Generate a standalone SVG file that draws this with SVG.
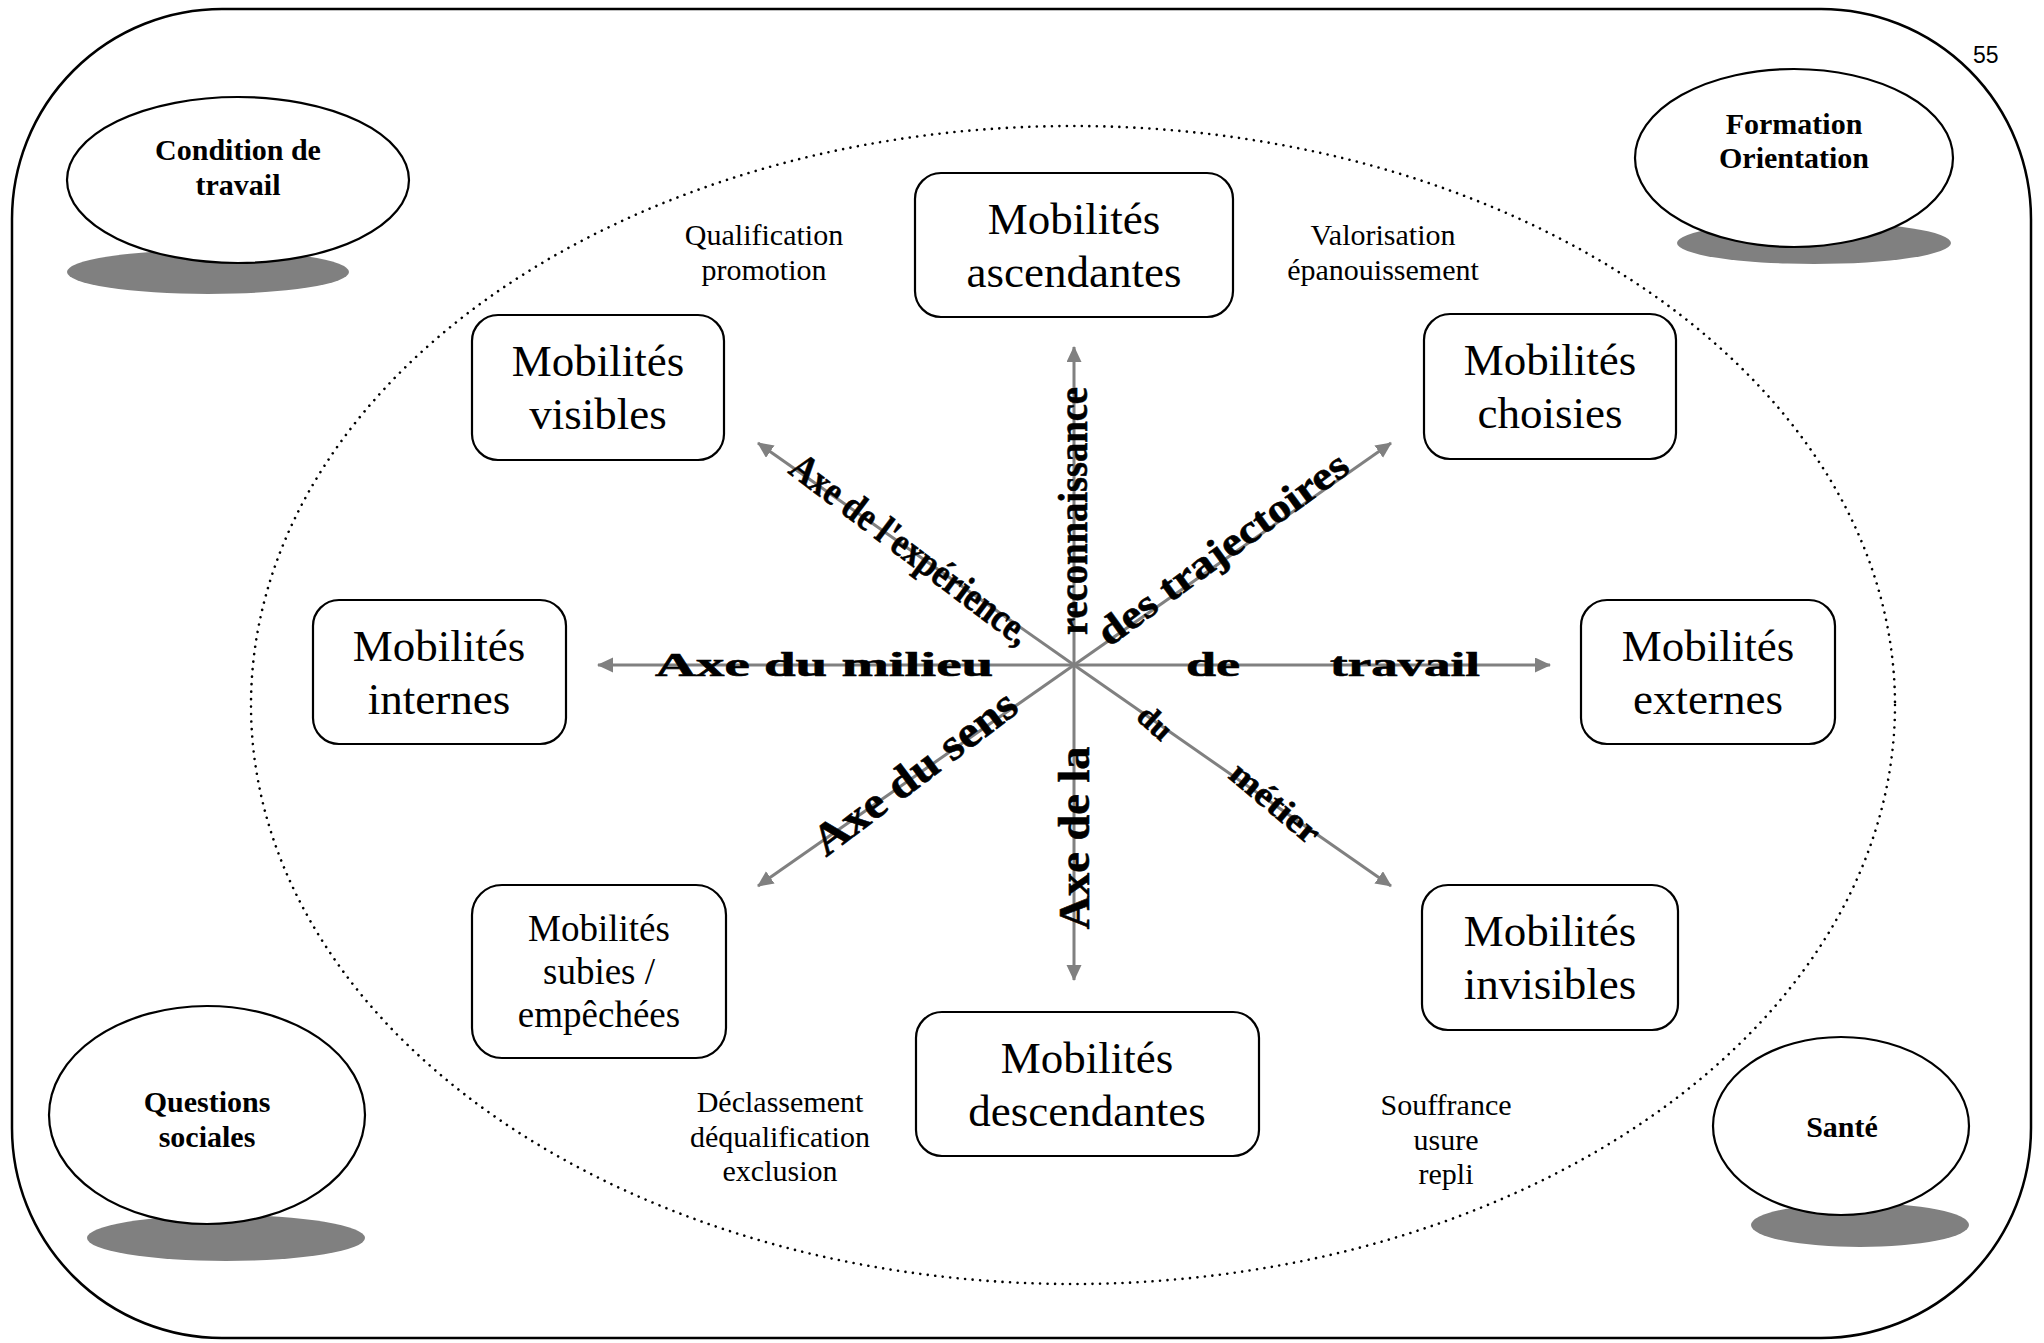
<svg xmlns="http://www.w3.org/2000/svg" width="2044" height="1343" viewBox="0 0 2044 1343">
  <defs>
    <marker id="arrowHead" markerUnits="userSpaceOnUse" markerWidth="18" markerHeight="16" refX="15" refY="7.5" orient="auto">
      <path d="M0,0 L16,7.5 L0,15 z" fill="#808080"/>
    </marker>
    <style>
      .frame { fill: #ffffff; stroke: #000000; stroke-width: 2.5; }
      .halo { fill: none; stroke: #000000; stroke-width: 2.6; stroke-dasharray: 0.01 7.5; stroke-linecap: round; }
      .box { fill: #ffffff; stroke: #000000; stroke-width: 2.2; }
      .pill { fill: #ffffff; stroke: #000000; stroke-width: 2.2; }
      .shadow { fill: #808080; stroke: none; }
      .axis { stroke: #808080; stroke-width: 3; fill: none; marker-end: url(#arrowHead); }
      .boxText { font-family: "Liberation Serif", "Times New Roman", serif; font-size: 45px; fill: #000000; text-anchor: middle; }
      .boxTextSm { font-family: "Liberation Serif", "Times New Roman", serif; font-size: 37px; fill: #000000; text-anchor: middle; }
      .note { font-family: "Liberation Serif", "Times New Roman", serif; font-size: 30px; fill: #000000; text-anchor: middle; }
      .pillText { font-family: "Liberation Serif", "Times New Roman", serif; font-size: 30px; font-weight: bold; fill: #000000; text-anchor: middle; }
      .axisText { font-family: "Liberation Serif", "Times New Roman", serif; font-weight: bold; fill: #000000; stroke: #000000; stroke-width: 0.6; }
      .pageNo { font-family: "Liberation Sans", Arial, sans-serif; font-size: 23px; fill: #000000; }
    </style>
  </defs>

  <!-- outer frame -->
  <rect class="frame" x="12" y="9" width="2019" height="1329" rx="210" ry="210"/>
  <text class="pageNo" x="1973" y="63">55</text>

  <!-- dotted field around the mobility map -->
  <ellipse class="halo" cx="1073" cy="705" rx="822" ry="579"/>

  <!-- context themes in the corners -->
  <g id="condition-travail">
    <ellipse class="shadow" cx="208" cy="272" rx="141" ry="22"/>
    <ellipse class="pill" cx="238" cy="180" rx="171" ry="83"/>
    <text class="pillText" x="238" y="160">Condition de</text>
    <text class="pillText" x="238" y="195">travail</text>
  </g>
  <g id="formation-orientation">
    <ellipse class="shadow" cx="1814" cy="243" rx="137" ry="21"/>
    <ellipse class="pill" cx="1794" cy="158" rx="159" ry="89"/>
    <text class="pillText" x="1794" y="134">Formation</text>
    <text class="pillText" x="1794" y="168">Orientation</text>
  </g>
  <g id="questions-sociales">
    <ellipse class="shadow" cx="226" cy="1238" rx="139" ry="23"/>
    <ellipse class="pill" cx="207" cy="1115" rx="158" ry="109"/>
    <text class="pillText" x="207" y="1112">Questions</text>
    <text class="pillText" x="207" y="1147">sociales</text>
  </g>
  <g id="sante">
    <ellipse class="shadow" cx="1860" cy="1225" rx="109" ry="22"/>
    <ellipse class="pill" cx="1841" cy="1126" rx="128" ry="89"/>
    <text class="pillText" x="1842" y="1137">Santé</text>
  </g>

  <!-- axes radiating from the centre -->
  <g id="axes">
    <line class="axis" x1="1074" y1="665" x2="1074" y2="347"/>
    <line class="axis" x1="1074" y1="665" x2="1074" y2="980"/>
    <line class="axis" x1="1074" y1="665" x2="598" y2="665"/>
    <line class="axis" x1="1074" y1="665" x2="1550" y2="665"/>
    <line class="axis" x1="1074" y1="665" x2="758" y2="443"/>
    <line class="axis" x1="1074" y1="665" x2="1391" y2="443"/>
    <line class="axis" x1="1074" y1="665" x2="758" y2="886"/>
    <line class="axis" x1="1074" y1="665" x2="1391" y2="886"/>
  </g>

  <!-- axis labels -->
  <g id="axis-labels">
    <text class="axisText" x="655" y="676" font-size="34" textLength="338" lengthAdjust="spacingAndGlyphs">Axe du milieu</text>
    <text class="axisText" x="1186" y="676" font-size="34" textLength="54" lengthAdjust="spacingAndGlyphs">de</text>
    <text class="axisText" x="1330" y="676" font-size="34" textLength="150" lengthAdjust="spacingAndGlyphs">travail</text>
    <g transform="translate(910,550) rotate(37)">
      <text class="axisText" x="0" y="12" font-size="40" text-anchor="middle" textLength="290" lengthAdjust="spacingAndGlyphs">Axe de l'expérience,</text>
    </g>
    <g transform="translate(1074,511) rotate(-90)">
      <text class="axisText" x="0" y="13" font-size="42" text-anchor="middle" textLength="248" lengthAdjust="spacingAndGlyphs">reconnaissance</text>
    </g>
    <g transform="translate(1228,556) rotate(-36)">
      <text class="axisText" x="0" y="4" font-size="40" text-anchor="middle" textLength="300" lengthAdjust="spacingAndGlyphs">des trajectoires</text>
    </g>
    <g transform="translate(915,773) rotate(-37)">
      <text class="axisText" x="0" y="14" font-size="44" text-anchor="middle" textLength="244" lengthAdjust="spacingAndGlyphs">Axe du sens</text>
    </g>
    <g transform="translate(1074,838) rotate(-90)">
      <text class="axisText" x="0" y="15" font-size="44" font-weight="normal" stroke-width="0.3" text-anchor="middle" textLength="183" lengthAdjust="spacingAndGlyphs">Axe de la</text>
    </g>
    <g transform="translate(1155,723) rotate(42)">
      <text class="axisText" x="0" y="10" font-size="32" text-anchor="middle">du</text>
    </g>
    <g transform="translate(1275,803) rotate(40)">
      <text class="axisText" x="0" y="11" font-size="34" text-anchor="middle" textLength="107" lengthAdjust="spacingAndGlyphs">métier</text>
    </g>
  </g>

  <!-- mobility types -->
  <g id="ascendantes">
    <rect class="box" x="915" y="173" width="318" height="144" rx="26"/>
    <text class="boxText" x="1074" y="234">Mobilités</text>
    <text class="boxText" x="1074" y="287">ascendantes</text>
  </g>
  <g id="visibles">
    <rect class="box" x="472" y="315" width="252" height="145" rx="26"/>
    <text class="boxText" x="598" y="376">Mobilités</text>
    <text class="boxText" x="598" y="429">visibles</text>
  </g>
  <g id="choisies">
    <rect class="box" x="1424" y="314" width="252" height="145" rx="26"/>
    <text class="boxText" x="1550" y="375">Mobilités</text>
    <text class="boxText" x="1550" y="428">choisies</text>
  </g>
  <g id="internes">
    <rect class="box" x="313" y="600" width="253" height="144" rx="26"/>
    <text class="boxText" x="439" y="661">Mobilités</text>
    <text class="boxText" x="439" y="714">internes</text>
  </g>
  <g id="externes">
    <rect class="box" x="1581" y="600" width="254" height="144" rx="26"/>
    <text class="boxText" x="1708" y="661">Mobilités</text>
    <text class="boxText" x="1708" y="714">externes</text>
  </g>
  <g id="subies">
    <rect class="box" x="472" y="885" width="254" height="173" rx="30"/>
    <text class="boxTextSm" x="599" y="941">Mobilités</text>
    <text class="boxTextSm" x="599" y="984">subies /</text>
    <text class="boxTextSm" x="599" y="1027">empêchées</text>
  </g>
  <g id="descendantes">
    <rect class="box" x="916" y="1012" width="343" height="144" rx="26"/>
    <text class="boxText" x="1087" y="1073">Mobilités</text>
    <text class="boxText" x="1087" y="1126">descendantes</text>
  </g>
  <g id="invisibles">
    <rect class="box" x="1422" y="885" width="256" height="145" rx="26"/>
    <text class="boxText" x="1550" y="946">Mobilités</text>
    <text class="boxText" x="1550" y="999">invisibles</text>
  </g>

  <!-- qualifiers between the boxes -->
  <g id="notes">
    <text class="note" x="764" y="245">Qualification</text>
    <text class="note" x="764" y="280">promotion</text>
    <text class="note" x="1383" y="245">Valorisation</text>
    <text class="note" x="1383" y="280">épanouissement</text>
    <text class="note" x="780" y="1112">Déclassement</text>
    <text class="note" x="780" y="1147">déqualification</text>
    <text class="note" x="780" y="1181">exclusion</text>
    <text class="note" x="1446" y="1115">Souffrance</text>
    <text class="note" x="1446" y="1150">usure</text>
    <text class="note" x="1446" y="1184">repli</text>
  </g>
</svg>
